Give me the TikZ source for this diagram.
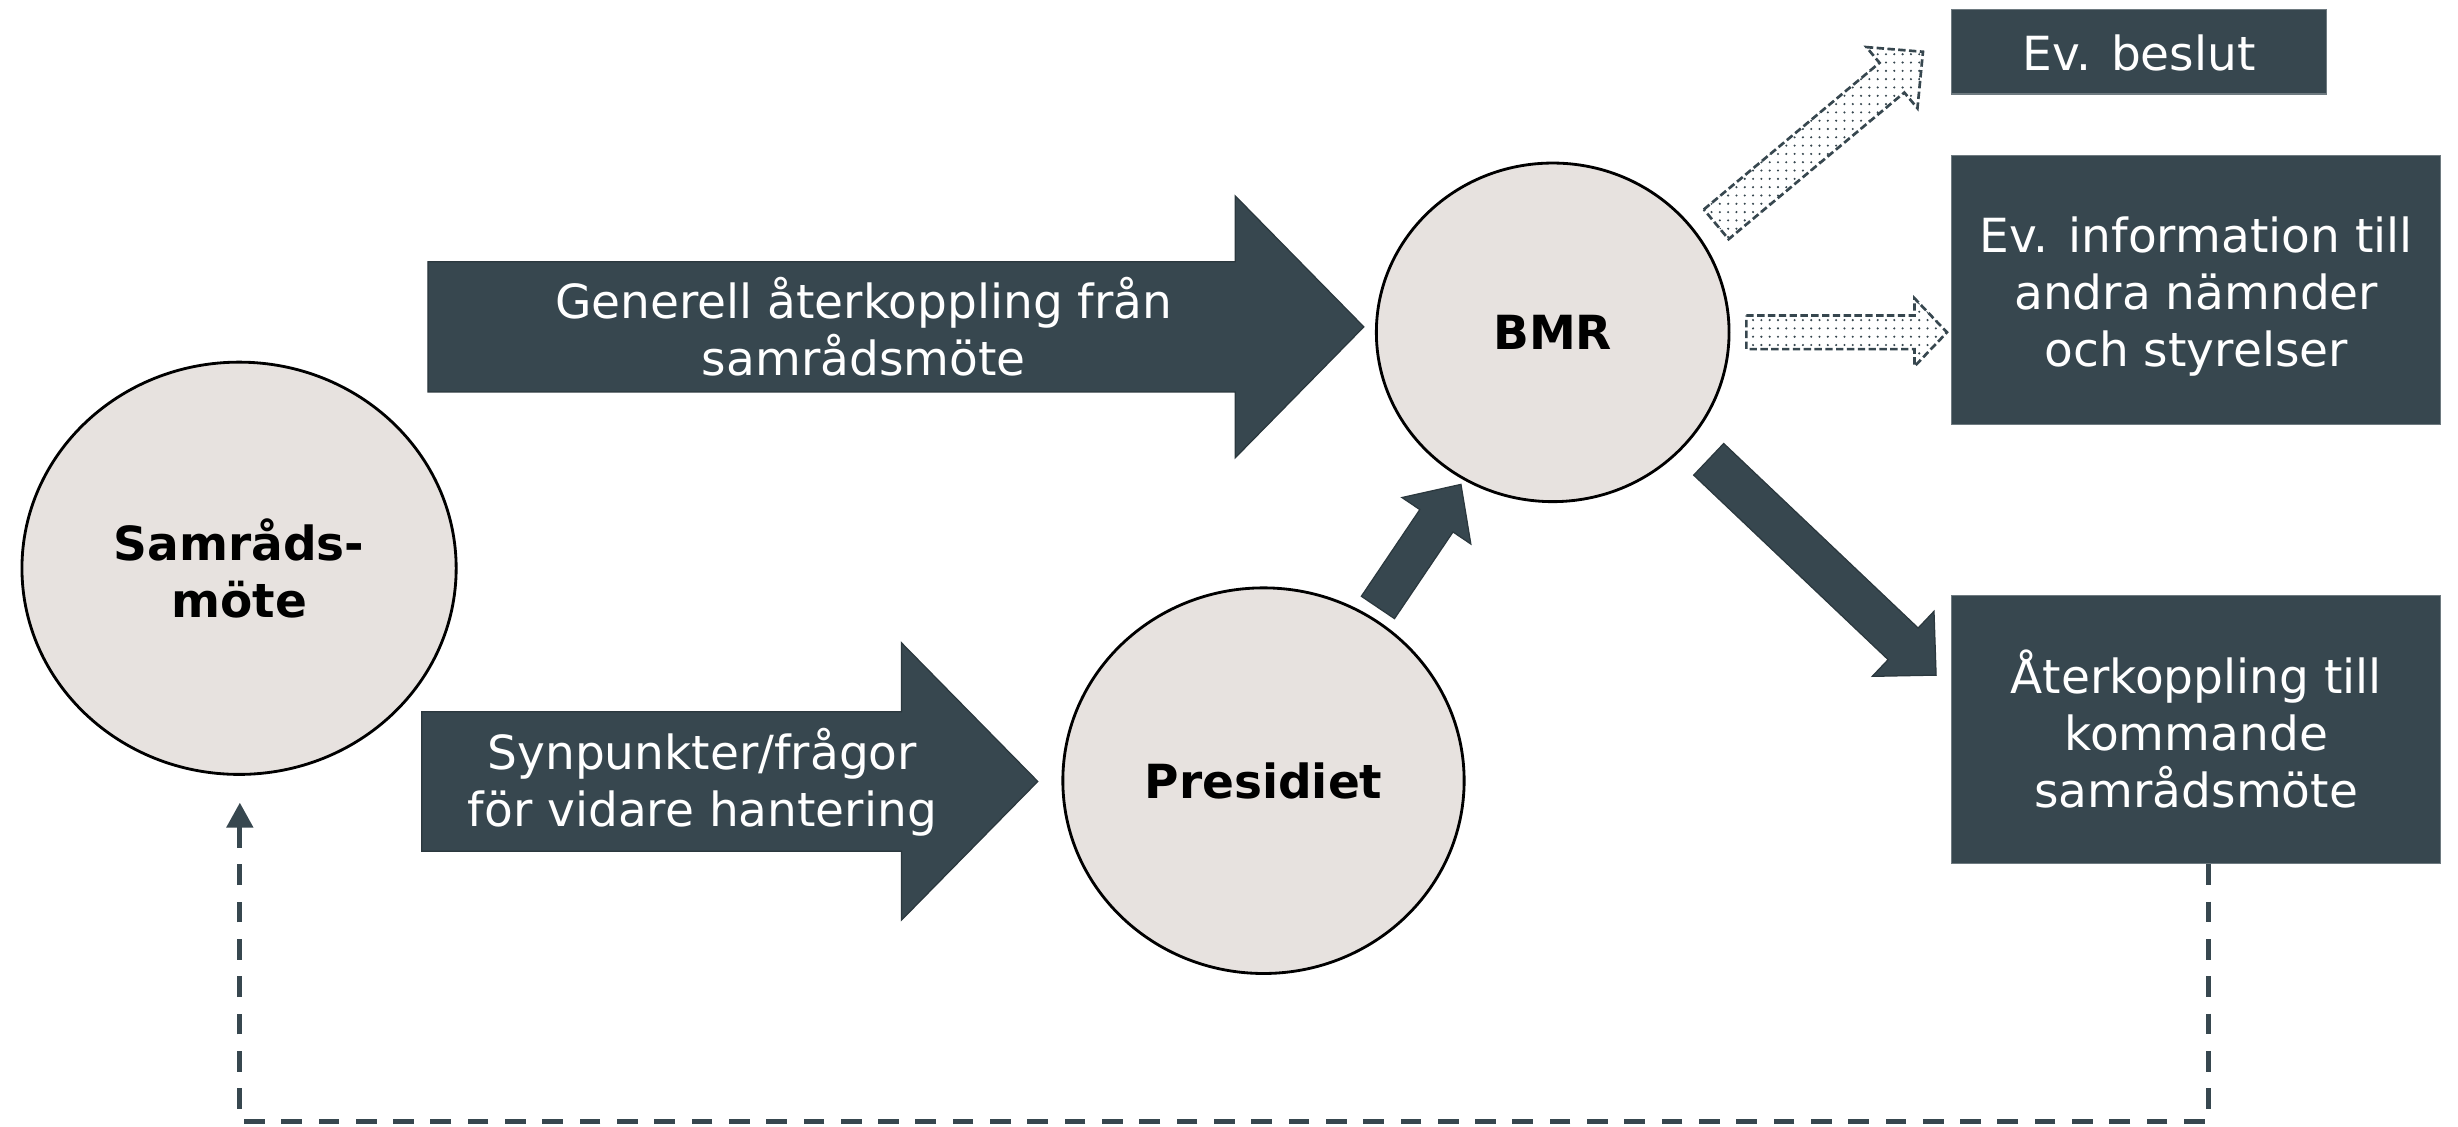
\documentclass[tikz,border=0pt]{standalone}
\usepackage{fontspec}
\setmainfont{DejaVu Sans}
\usetikzlibrary{shapes.geometric,arrows.meta,patterns}
\definecolor{slate}{HTML}{37474F}
\definecolor{slateline}{HTML}{2B383E}
\definecolor{boxline}{HTML}{6E7A80}
\definecolor{ellfill}{HTML}{E7E2DF}
\pgfdeclarepatternformonly{sparsedots}{\pgfqpoint{-1pt}{-1pt}}{\pgfqpoint{1pt}{1pt}}{\pgfqpoint{5.3pt}{5.3pt}}{\pgfpathcircle{\pgfqpoint{0pt}{0pt}}{0.75pt}\pgfusepath{fill}}
% block arrow: x, y, angle, length, shaft width, head width, head length, style
\newcommand{\blkarrow}[8]{%
  \begin{scope}[shift={(#1,#2)},rotate=#3]
    \draw[#8] (0,-#5/2) -- ({#4-#7},-#5/2) -- ({#4-#7},-#6/2) -- (#4,0)
      -- ({#4-#7},#6/2) -- ({#4-#7},#5/2) -- (0,#5/2) -- cycle;
  \end{scope}}
\begin{document}
\begin{tikzpicture}[x=1pt,y=-1pt,
  ell/.style={ellipse, draw=black, line width=1.8pt, fill=ellfill, inner sep=0pt,
    font=\bfseries\fontsize{30}{36.5}\selectfont, align=center},
  box/.style={rectangle, fill=slate, draw=boxline, line width=0.8pt, inner sep=0pt},
  wtext/.style={text=white, font=\fontsize{30}{36.5}\selectfont, align=center, inner sep=0pt},
  solidarrow/.style={fill=slate, draw=slateline, line width=0.8pt},
  dotarrow/.style={draw=slate, line width=1.7pt, dash pattern=on 4.7pt off 2.2pt,
    pattern=sparsedots, pattern color=slate},
  feedback/.style={draw=slate, line width=3.3pt, dash pattern=on 13.2pt off 10.6pt,
    -{Triangle[width=16.6pt,length=16pt]}}]
\useasboundingbox (0,0) rectangle (1568,718.3);

% circles
\node[ell, minimum width=277pt, minimum height=263pt] (samrad) at (152.5,362.5) {Samråds-\\möte};
\node[ell, minimum width=256pt, minimum height=246pt] (pres) at (806,498) {Presidiet};
\node[ell, minimum width=225pt, minimum height=216pt] (bmr) at (990.5,212) {BMR};

% boxes
\node[box, minimum width=239pt, minimum height=54pt] (beslut) at (1364.5,33) {};
\node[wtext] (beslutt) at (1364.5,34) {Ev. beslut};
\node[box, minimum width=312pt, minimum height=172pt] (info) at (1401,185) {};
\node[wtext] (infot) at (1401,189) {Ev. information till\\andra nämnder\\och styrelser};
\node[box, minimum width=312pt, minimum height=171pt] (aterk) at (1401,465.5) {};
\node[wtext] (aterkt) at (1401,465) {Återkoppling till\\kommande\\samrådsmöte};

% big block arrows with text
\blkarrow{273}{208.5}{0}{597}{83}{167}{82}{solidarrow}
\node[wtext] (generell) at (551,208.5) {Generell återkoppling från\\samrådsmöte};
\blkarrow{269}{498.5}{0}{393}{89}{177}{87}{solidarrow}
\node[wtext] (synp) at (448,499) {Synpunkter/frågor\\för vidare hantering};

% small block arrows
\blkarrow{879}{387.5}{56}{94.7}{25.5}{53}{28}{solidarrow}
\blkarrow{1090}{293}{-43.5}{200}{27.8}{57.2}{29}{solidarrow}

% dotted arrows
\blkarrow{1094.8}{143.1}{39.85}{171.8}{24.7}{50.8}{25.8}{dotarrow}
\blkarrow{1114}{212}{0}{128}{21.4}{43.4}{20.7}{dotarrow}

% feedback connector
\coordinate (fbend) at (153,512);
\draw[feedback] ([xshift=8pt]aterk.south) -- ++(0,164) -| (fbend);
\end{tikzpicture}
\end{document}
